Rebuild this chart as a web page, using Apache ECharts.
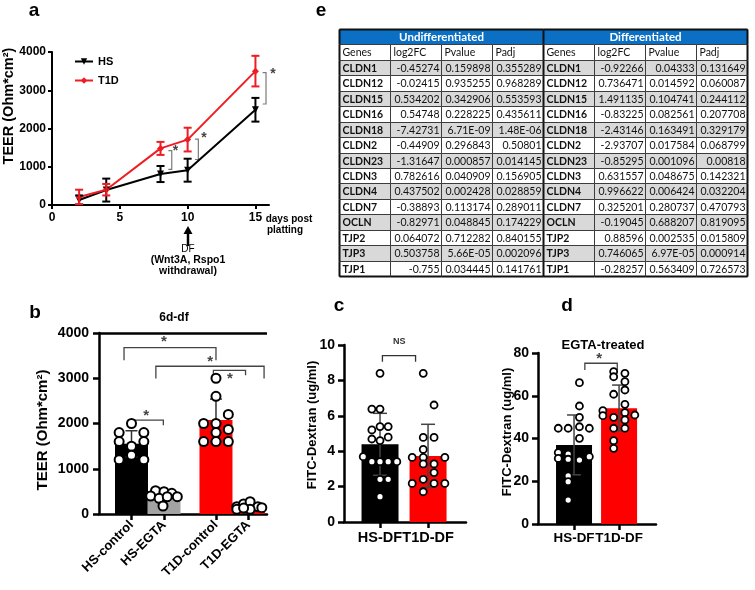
<!DOCTYPE html>
<html><head><meta charset="utf-8">
<script src="https://cdn.jsdelivr.net/npm/echarts@6/dist/echarts.min.js"></script>
<style>html,body{margin:0;padding:0;background:#fff}#main{width:755px;height:590px}</style>
</head><body><div id="main"></div>
<script>
// ---------------- Panel a: TEER time course ----------------
const aDays = [2, 4, 8, 10, 15];
const aHS = [130, 390, 810, 910, 2490];
const aHSsd = [120, 300, 210, 300, 310];
const aT1D = [210, 400, 1480, 1710, 3500];
const aT1Dsd = [190, 150, 170, 310, 400];
const aXTicks = [0, 5, 10, 15];
const aYTicks = [0, 1000, 2000, 3000, 4000];
// significance brackets: x, low, high, star x, star y
const aSigX = [8.83, 10.79, 15.78];
const aSigLow = [930, 1190, 2640];
const aSigHigh = [1420, 1720, 3460];
const aStarX = [9.1, 11.2, 16.3];
const aStarY = [1480, 1830, 3500];

// ---------------- Panel b: TEER 6d-df ----------------
const bCats = ['HS-control', 'HS-EGTA', 'T1D-control', 'T1D-EGTA'];
const bPos = [1, 2, 3.6, 4.6];
const bMeans = [1550, 360, 2080, 60];
const bErrLow = [1260, 290, 1600, 20];
const bErrHigh = [1840, 430, 2540, 110];
const bColors = ['#000000', '#a3a3a3', '#ff0000', '#ff0000'];
const bPtsHSctrl = [[0,2000],[-0.38,1800],[0.38,1800],[-0.38,1600],[0.38,1600],[0,1500],[0,1300],[-0.38,1200],[0.38,1200]];
const bPtsHSegta = [[-0.26,515],[0,493],[0.24,457],[-0.41,398],[-0.15,346],[0.1,383],[0.41,383],[-0.03,177]];
const bPtsT1Dctrl = [[0,3000],[0,2600],[0.38,2200],[-0.38,2000],[0,2000],[0.38,1870],[0,1800],[-0.38,1600],[0,1600],[0.38,1600]];
const bPtsT1Degta = [[-0.36,160],[-0.15,221],[0.05,273],[0.29,160],[0.41,140],[-0.36,103],[0.05,103],[-0.15,130]];
const bYTicks = [0, 1000, 2000, 3000, 4000];
// brackets: x1, x2, level, end1, end2, starX, starY
const bBrackets = [
  [0.77, 3.6, 3676, 3397, 3397, 2.0, 3870],
  [1.75, 5.08, 3265, 2993, 2993, 3.42, 3430],
  [3.52, 4.51, 3176, 3066, 3066, 4.03, 3050],
  [1.06, 1.98, 2073, 2073, 1963, 1.45, 2240]
];

// ---------------- Panel c: FITC-Dextran ----------------
const cCats = ['HS-DF', 'T1D-DF'];
const cPos = [0.75, 1.75];
const cMeans = [4.39, 3.73];
const cErrLow = [2.64, 1.95];
const cErrHigh = [6.14, 5.52];
const cPtsHS = [[0,8.40],[-0.17,6.38],[0,6.38],[-0.17,5.2],[0,5.39],[0.17,5.39],[-0.17,4.69],[0,4.6],[0.17,4.79],[-0.35,3.69],[-0.17,3.41],[0,3.41],[0.17,3.41],[0.35,3.41],[0,2.41],[0.17,2.41],[0,1.43]];
const cPtsT1D = [[-0.1,8.40],[0.125,6.61],[-0.1,4.78],[0.125,4.78],[-0.1,4.1],[-0.33,3.65],[-0.1,3.65],[0.35,3.65],[-0.1,3.28],[0.125,3.28],[0.125,2.79],[-0.33,2.18],[-0.1,2.41],[0.125,2.18],[0.35,2.18],[-0.1,1.71]];
const cBracket = [[0.8, 1.49, 9.4, 9.06, 9.06, 1.15, 10.2]];

// ---------------- Panel d: FITC-Dextran EGTA-treated ----------------
const dCats = ['HS-DF', 'T1D-DF'];
const dPos = [0.8, 1.8];
const dMeans = [37.0, 54.1];
const dErrLow = [23, 43.6];
const dErrHigh = [51, 65];
const dPtsHS = [[0.12,66.1],[0.12,55.2],[0.12,49.9],[-0.35,44.8],[-0.13,44.8],[0.12,45.5],[0.34,44.8],[0.12,40.1],[-0.35,33.4],[-0.13,32.7],[-0.35,30.7],[-0.13,30.3],[0.12,29.9],[0.34,31.5],[-0.13,22.5],[-0.13,19.8],[-0.13,11.2]];
const dPtsT1D = [[-0.12,71.3],[0.13,70.5],[-0.12,68.9],[0.13,66.6],[0.13,62.7],[-0.12,60.7],[0.13,56],[-0.36,53],[-0.36,50.7],[-0.12,49.9],[0.13,52.1],[0.35,51],[0.13,48.7],[-0.12,44.8],[0.13,44.8],[-0.12,39],[-0.12,35.4]];
const dBracket = [[1.04, 1.76, 75.2, 72, 72, 1.36, 78.6]];

// ---------------- Panel e: table ----------------
const tableGroups = ['Undifferentiated', 'Differentiated'];
const tableCols = ['Genes', 'log2FC', 'Pvalue', 'Padj'];
const genes = ['CLDN1','CLDN12','CLDN15','CLDN16','CLDN18','CLDN2','CLDN23','CLDN3','CLDN4','CLDN7','OCLN','TJP2','TJP3','TJP1'];
const undLog2FC = ['-0.45274','-0.02415','0.534202','0.54748','-7.42731','-0.44909','-1.31647','0.782616','0.437502','-0.38893','-0.82971','0.064072','0.503758','-0.755'];
const undPvalue = ['0.159898','0.935255','0.342906','0.228225','6.71E-09','0.296843','0.000857','0.040909','0.002428','0.113174','0.048845','0.712282','5.66E-05','0.034445'];
const undPadj = ['0.355289','0.968289','0.553593','0.435611','1.48E-06','0.50801','0.014145','0.156905','0.028859','0.289011','0.174229','0.840155','0.002096','0.141761'];
const difLog2FC = ['-0.92266','0.736471','1.491135','-0.83225','-2.43146','-2.93707','-0.85295','0.631557','0.996622','0.325201','-0.19045','0.88596','0.746065','-0.28257'];
const difPvalue = ['0.04333','0.014592','0.104741','0.082561','0.163491','0.017584','0.001096','0.048675','0.006424','0.280737','0.688207','0.002535','6.97E-05','0.563409'];
const difPadj = ['0.131649','0.060087','0.244112','0.207708','0.329179','0.068799','0.00818','0.142321','0.032204','0.470793','0.819095','0.015809','0.000914','0.726573'];

// ================= build =================
const FONT = '"Liberation Sans", Arial, sans-serif';
const TFONT = 'Lato, "Liberation Sans", sans-serif';
const chart = echarts.init(document.getElementById('main'));

const tableCells = [];
tableGroups.forEach((g, k) => tableCells.push({c: k*4, r: 0, span: 4, text: g, kind: 'head'}));
for (let k = 0; k < 2; k++) tableCols.forEach((t, j) => tableCells.push({c: k*4+j, r: 1, span: 1, text: t, kind: 'col'}));
genes.forEach((g, i) => {
  const r = i + 2;
  const rowVals = [g, undLog2FC[i], undPvalue[i], undPadj[i], g, difLog2FC[i], difPvalue[i], difPadj[i]];
  rowVals.forEach((v, c) => tableCells.push({c, r, span: 1, text: v, kind: (c % 4 === 0) ? 'gene' : 'num'}));
});

function tableRender(params, api) {
  const cell = tableCells[params.dataIndex];
  const p0 = api.coord([cell.c, cell.r]);
  const p1 = api.coord([cell.c + cell.span, cell.r + 1]);
  const x = Math.round(p0[0]) + 0.5, y = Math.round(p0[1]) + 0.5;
  const w = Math.round(p1[0]) - Math.round(p0[0]), h = Math.round(p1[1]) - Math.round(p0[1]);
  let fill = '#ffffff';
  if (cell.kind === 'head') fill = '#0b6fc4';
  else if (cell.r >= 2 && (cell.r - 2) % 2 === 0) fill = '#d9d9d9';
  const children = [{type: 'rect', shape: {x, y, width: w, height: h}, style: {fill, stroke: '#3c3c3c', lineWidth: 1}}];
  let tx, align, font, color = '#111';
  if (cell.kind === 'head') { tx = x + w/2; align = 'center'; font = 'bold 11.5px ' + TFONT; color = '#fff'; }
  else if (cell.kind === 'col') { tx = x + 3; align = 'left'; font = '10.5px ' + TFONT; }
  else if (cell.kind === 'gene') { tx = x + 3; align = 'left'; font = 'bold 10.5px ' + TFONT; }
  else { tx = x + w - 2; align = 'right'; font = '10.5px ' + TFONT; }
  children.push({type: 'text', x: tx, y: y + h/2 + 0.5, style: {text: cell.text, fill: color, font, align, verticalAlign: 'middle', textAlign: align, textVerticalAlign: 'middle'}});
  const thick = {stroke: '#111', lineWidth: 2};
  if (cell.c === 4) children.push({type: 'line', shape: {x1: x, y1: y, x2: x, y2: y + h}, style: thick});
  if (cell.c === 0) children.push({type: 'line', shape: {x1: x, y1: y, x2: x, y2: y + h}, style: thick});
  if (cell.c + cell.span === 8) children.push({type: 'line', shape: {x1: x + w, y1: y, x2: x + w, y2: y + h}, style: thick});
  if (cell.r === 15) children.push({type: 'line', shape: {x1: x, y1: y + h, x2: x + w, y2: y + h}, style: thick});
  if (cell.r === 0) children.push({type: 'line', shape: {x1: x, y1: y, x2: x + w, y2: y}, style: thick});
  return {type: 'group', children};
}

function errRender(cap, color, lw) {
  return function (params, api) {
    const x = api.value(0), lo = api.value(1), hi = api.value(2);
    const a = api.coord([x, hi]), b = api.coord([x, lo]);
    const st = {stroke: color, lineWidth: lw, fill: null};
    return {type: 'group', children: [
      {type: 'line', shape: {x1: a[0], y1: a[1], x2: b[0], y2: b[1]}, style: st},
      {type: 'line', shape: {x1: a[0]-cap, y1: a[1], x2: a[0]+cap, y2: a[1]}, style: st},
      {type: 'line', shape: {x1: b[0]-cap, y1: b[1], x2: b[0]+cap, y2: b[1]}, style: st}
    ]};
  };
}
function star(p, txt, size, color) {
  return {type: 'text', x: p[0], y: p[1] + (txt === '*' ? size*0.22 : 0), style: {text: txt, fill: color, font: 'bold ' + size + 'px ' + FONT, align: 'center', verticalAlign: 'middle', textAlign: 'center', textVerticalAlign: 'middle'}};
}
function hBracketRender(labels, color, size) {
  return function (params, api) {
    const v = i => api.value(i);
    const p1 = api.coord([v(0), v(3)]), p2 = api.coord([v(0), v(2)]), p3 = api.coord([v(1), v(2)]), p4 = api.coord([v(1), v(4)]);
    const s = api.coord([v(5), v(6)]);
    return {type: 'group', children: [
      {type: 'polyline', shape: {points: [p1, p2, p3, p4]}, style: {stroke: color, lineWidth: 1.3, fill: null}},
      star(s, labels[params.dataIndex], size, color)
    ]};
  };
}
function vBracketRender(params, api) {
  const x = api.value(0), lo = api.value(1), hi = api.value(2), t = 0.25;
  const pts = [api.coord([x - t, hi]), api.coord([x, hi]), api.coord([x, lo]), api.coord([x - t, lo])];
  const s = api.coord([api.value(3), api.value(4)]);
  return {type: 'group', children: [
    {type: 'polyline', shape: {points: pts}, style: {stroke: '#7a7a7a', lineWidth: 1.2, fill: null}},
    star(s, '*', 14, '#444')
  ]};
}

function axBase(w, fs, margin, tickLen, ticks) {
  const ax = {
    axisLine: {show: true, onZero: false, lineStyle: {color: '#000', width: w}},
    axisTick: {show: true, length: tickLen, lineStyle: {color: '#000', width: w}},
    axisLabel: {color: '#000', fontSize: fs, fontWeight: 'bold', fontFamily: FONT, margin, hideOverlap: false,
      showMinLabel: true, showMaxLabel: true, interval: 0, formatter: v => String(v)},
    splitLine: {show: false}
  };
  if (ticks) { ax.axisTick.customValues = ticks; ax.axisLabel.customValues = ticks; }
  return ax;
}
function catAxis(grid, max, pos, names, w, fs, margin, rotate) {
  const base = axBase(w, fs, margin, 6, pos);
  base.axisLabel.rotate = rotate || 0;
  base.axisLabel.formatter = val => { const i = pos.findIndex(p => Math.abs(p - val) < 1e-6); return i >= 0 ? names[i] : ''; };
  return Object.assign({type: 'value', gridIndex: grid, min: 0, max}, base);
}
function barData(pos, means, colors) {
  return pos.map((p, i) => ({value: [p, means[i]], itemStyle: {color: colors[i]}}));
}
function dots(center, pts) { return pts.map(q => [center + q[0], q[1]]); }
function dotSeries(xi, data, size, bw) {
  return {type: 'scatter', xAxisIndex: xi, yAxisIndex: xi, data, symbol: 'circle', symbolSize: size,
    itemStyle: {color: '#fff', borderColor: '#000', borderWidth: bw, opacity: 1}, z: 5, silent: true};
}
function errSeries(xi, pos, lo, hi, color, lw, cap) {
  return {type: 'custom', xAxisIndex: xi, yAxisIndex: xi, data: pos.map((p, i) => [p, lo[i], hi[i]]),
    renderItem: errRender(cap, color, lw), z: 4, silent: true};
}
function txt(t, x, y, size, weight, extra) {
  return Object.assign({type: 'text', x, y, style: {text: t, fill: '#000', font: (weight || 'normal') + ' ' + size + 'px ' + FONT,
    align: 'center', verticalAlign: 'middle', textAlign: 'center', textVerticalAlign: 'middle'}}, extra || {});
}

const option = {
  animation: false,
  backgroundColor: '#ffffff',
  textStyle: {fontFamily: FONT},
  legend: {
    data: ['HS', 'T1D'], orient: 'vertical', left: 69, top: 51, itemWidth: 18, itemHeight: 8, itemGap: 8,
    textStyle: {fontSize: 11, fontWeight: 'bold', fontFamily: FONT, color: '#000'}
  },
  grid: [
    {left: 52, top: 52, width: 217, height: 153},
    {left: 339, top: 29, width: 408, height: 247},
    {left: 99, top: 333, width: 168, height: 181},
    {left: 344, top: 345, width: 122, height: 177},
    {left: 538, top: 353, width: 118, height: 171}
  ].map(g => Object.assign({containLabel: false, outerBoundsMode: 'none'}, g)),
  xAxis: [
    Object.assign({type: 'value', gridIndex: 0, min: 0, max: 16}, axBase(2, 12, 7, 4, aXTicks)),
    {type: 'value', gridIndex: 1, min: 0, max: 8, show: false},
    catAxis(2, 5.17, bPos, bCats, 2.5, 13, 9, 45),
    catAxis(3, 2.54, cPos, cCats, 2.5, 14.5, 8, 0),
    catAxis(4, 2.62, dPos, dCats, 2.5, 13.4, 8, 0)
  ],
  yAxis: [
    Object.assign({type: 'value', gridIndex: 0, min: 0, max: 4000}, axBase(2, 12, 6, 4, aYTicks)),
    {type: 'value', gridIndex: 1, min: 0, max: 16, inverse: true, show: false},
    Object.assign({type: 'value', gridIndex: 2, min: 0, max: 4000}, axBase(2.5, 14, 10, 6, bYTicks)),
    Object.assign({type: 'value', gridIndex: 3, min: 0, max: 10, interval: 2}, axBase(2.5, 14, 9, 6)),
    Object.assign({type: 'value', gridIndex: 4, min: 0, max: 80, interval: 20}, axBase(2.5, 14, 9, 6))
  ],
  series: [
    // panel a
    {type: 'line', name: 'HS', xAxisIndex: 0, yAxisIndex: 0, data: aDays.map((d, i) => [d, aHS[i]]),
      color: '#000', lineStyle: {width: 2, color: '#000'}, itemStyle: {color: '#000'},
      symbol: 'triangle', symbolRotate: 180, symbolSize: 7, z: 3},
    {type: 'line', name: 'T1D', xAxisIndex: 0, yAxisIndex: 0, data: aDays.map((d, i) => [d, aT1D[i]]),
      color: '#ee1d23', lineStyle: {width: 2, color: '#ee1d23'}, itemStyle: {color: '#ee1d23'},
      symbol: 'diamond', symbolSize: 7, z: 3},
    errSeries(0, aDays, aHS.map((v, i) => v - aHSsd[i]), aHS.map((v, i) => v + aHSsd[i]), '#000', 2, 4),
    errSeries(0, aDays, aT1D.map((v, i) => v - aT1Dsd[i]), aT1D.map((v, i) => v + aT1Dsd[i]), '#ee1d23', 2, 4),
    {type: 'custom', xAxisIndex: 0, yAxisIndex: 0, data: aSigX.map((x, i) => [x, aSigLow[i], aSigHigh[i], aStarX[i], aStarY[i]]),
      renderItem: vBracketRender, silent: true},
    // table e
    {type: 'custom', xAxisIndex: 1, yAxisIndex: 1, data: tableCells.map(c => [c.c, c.r, c.span]), renderItem: tableRender, silent: true},
    // panel b
    {type: 'bar', xAxisIndex: 2, yAxisIndex: 2, data: barData(bPos, bMeans, bColors), barWidth: 33, z: 2, silent: true,
      markLine: {silent: true, symbol: ['none', 'none'], label: {show: false}, lineStyle: {color: '#000', width: 2.5, type: 'solid'}, data: [{yAxis: 4000}]}},
    errSeries(2, bPos, bErrLow, bErrHigh, '#333', 1.5, 6),
    dotSeries(2, [].concat(dots(bPos[0], bPtsHSctrl), dots(bPos[1], bPtsHSegta), dots(bPos[2], bPtsT1Dctrl), dots(bPos[3], bPtsT1Degta)), 9, 2),
    {type: 'custom', xAxisIndex: 2, yAxisIndex: 2, data: bBrackets, renderItem: hBracketRender(['*', '*', '*', '*'], '#444', 15), silent: true},
    // panel c
    {type: 'bar', xAxisIndex: 3, yAxisIndex: 3, data: barData(cPos, cMeans, ['#000', '#ff0000']), barWidth: 37, z: 2, silent: true},
    errSeries(3, cPos, cErrLow, cErrHigh, '#444', 1.5, 7),
    dotSeries(3, [].concat(dots(cPos[0], cPtsHS), dots(cPos[1], cPtsT1D)), 7, 1.8),
    {type: 'custom', xAxisIndex: 3, yAxisIndex: 3, data: cBracket, renderItem: hBracketRender(['NS'], '#333', 9), silent: true},
    // panel d
    {type: 'bar', xAxisIndex: 4, yAxisIndex: 4, data: barData(dPos, dMeans, ['#000', '#ff0000']), barWidth: 36, z: 2, silent: true},
    errSeries(4, dPos, dErrLow, dErrHigh, '#444', 1.5, 7),
    dotSeries(4, [].concat(dots(dPos[0], dPtsHS), dots(dPos[1], dPtsT1D)), 7, 1.8),
    {type: 'custom', xAxisIndex: 4, yAxisIndex: 4, data: dBracket, renderItem: hBracketRender(['*'], '#444', 15), silent: true}
  ],
  graphic: [
    txt('a', 34, 11, 19, 'bold'),
    txt('e', 321, 11, 19, 'bold'),
    txt('b', 35, 313, 19, 'bold'),
    txt('c', 339, 306, 19, 'bold'),
    txt('d', 567, 306, 19, 'bold'),
    txt('TEER (Ohm*cm²)', 9, 106, 14.5, 'bold', {rotation: Math.PI / 2}),
    txt('TEER (Ohm*cm²)', 43, 430, 15, 'bold', {rotation: Math.PI / 2}),
    txt('FITC-Dextran (ug/ml)', 312, 425, 13, 'bold', {rotation: Math.PI / 2}),
    txt('FITC-Dextran (ug/ml)', 507, 432, 13, 'bold', {rotation: Math.PI / 2}),
    txt('days post', 289, 219, 10, 'bold'),
    txt('platting', 285, 230, 10, 'bold'),
    txt('DF', 188, 249, 10, 'normal'),
    txt('(Wnt3A, Rspo1', 188, 260, 10.5, 'bold'),
    txt('withdrawal)', 188, 271, 10.5, 'bold'),
    txt('6d-df', 174, 318, 12, 'bold'),
    txt('EGTA-treated', 603, 345, 13, '600'),
    {type: 'line', shape: {x1: 188, y1: 246, x2: 188, y2: 233}, style: {stroke: '#000', lineWidth: 2.5}},
    {type: 'polygon', shape: {points: [[183.5, 234], [192.5, 234], [188, 226]]}, style: {fill: '#000'}}
  ]
};
chart.setOption(option);
</script>
</body></html>
